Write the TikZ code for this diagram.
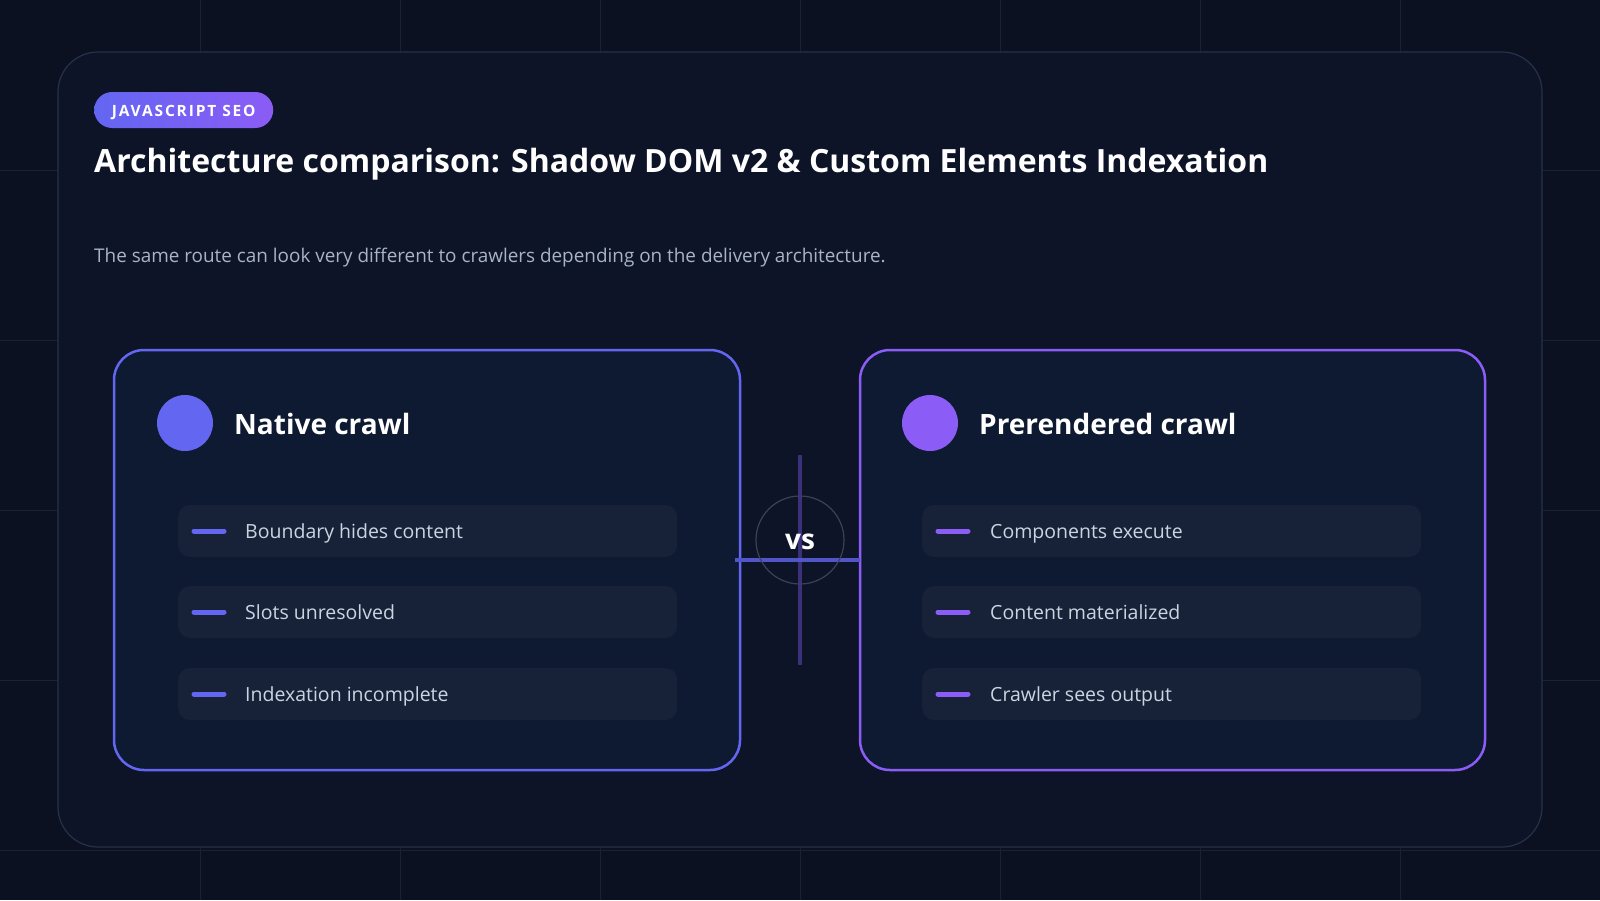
\documentclass[tikz,border=0pt]{standalone}
\usepackage{fontspec}
\setmainfont{Open Sans}
\usetikzlibrary{calc, positioning}

\definecolor{bgdark}{HTML}{0B1120}
\definecolor{gridline}{HTML}{182236}
\definecolor{panelfill}{HTML}{0D1427}
\definecolor{panelline}{HTML}{25324A}
\definecolor{cardfill}{HTML}{0E1A31}
\definecolor{rowfill}{HTML}{172239}
\definecolor{indigo}{HTML}{6366F1}
\definecolor{violet}{HTML}{8B5CF6}
\definecolor{subtext}{HTML}{A8B3C7}
\definecolor{rowtext}{HTML}{CBD5E1}
\definecolor{vsring}{HTML}{3A4256}
\definecolor{vsline}{HTML}{3A3178}

\tikzset{
    card/.style={line width=2.5pt, rounded corners=30pt, fill=cardfill},
    rowbox/.style={fill=rowfill, rounded corners=12pt, minimum width=499pt,
        minimum height=52pt, inner sep=0pt},
    dot/.style={circle, minimum size=56pt, inner sep=0pt},
    marker/.style={line width=5pt, line cap=round},
    heading/.style={anchor=base west, inner sep=0pt, text=white,
        font=\fontsize{28}{32}\selectfont\bfseries},
    rowlabel/.style={anchor=base west, inner sep=0pt, text=rowtext,
        font=\fontsize{19.5}{23}\selectfont},
}

\begin{document}
\begin{tikzpicture}[x=1pt, y=-1pt]

% Hintergrund und Raster
\fill[bgdark] (0,0) rectangle (1600,900);
\useasboundingbox (0,0) rectangle (1600,900);
\draw[gridline, line width=1pt] (200,0) -- (200,900) (400,0) -- (400,900)
    (600,0) -- (600,900) (800,0) -- (800,900) (1000,0) -- (1000,900)
    (1200,0) -- (1200,900) (1400,0) -- (1400,900)
    (0,170) -- (1600,170) (0,340) -- (1600,340) (0,510) -- (1600,510)
    (0,680) -- (1600,680) (0,850) -- (1600,850);

% Hauptflaeche
\draw[panelline, fill=panelfill, line width=1.2pt, rounded corners=40pt]
    (58,52) rectangle (1542,847);

% Badge
\node[rounded corners=18pt, minimum width=179pt, minimum height=36pt,
    left color=indigo, right color=violet, anchor=west] (badge) at (94,110) {};
\node[text=white, anchor=base, inner sep=0pt,
    font=\fontsize{15.5}{18}\selectfont\bfseries\addfontfeature{LetterSpace=12}]
    at ($(badge.center)+(0,6)$) {JAVASCRIPT SEO};

% Titel und Untertitel
\node[anchor=base west, inner sep=0pt, text=white,
    font=\fontsize{32}{36}\selectfont\bfseries] (title) at (94,172)
    {Architecture comparison: Shadow DOM v2 \& Custom Elements Indexation};
\node[anchor=base west, inner sep=0pt, text=subtext,
    font=\fontsize{18.9}{22}\selectfont] (subtitle) at (94,262)
    {The same route can look very different to crawlers depending on the delivery architecture.};

% Karten
\draw[card, draw=indigo] (114,350) rectangle (740,770);
\draw[card, draw=violet] (860,350) rectangle (1485,770);

% Linke Karte
\node[dot, fill=indigo] (ldot) at (185,423) {};
\node[heading] (lhead) at (234,434) {Native crawl};
\node[rowbox, anchor=west] (l1) at (178,531) {};
\node[rowbox, anchor=west] (l2) at (178,612) {};
\node[rowbox, anchor=west] (l3) at (178,694) {};
\draw[marker, indigo] ($(l1.west)+(16,0)$) -- ++(30,0);
\draw[marker, indigo] ($(l2.west)+(16,0)$) -- ++(30,0);
\draw[marker, indigo] ($(l3.west)+(16,0)$) -- ++(30,0);
\node[rowlabel] at ($(l1.west)+(67,7)$) {Boundary hides content};
\node[rowlabel] at ($(l2.west)+(67,7)$) {Slots unresolved};
\node[rowlabel] at ($(l3.west)+(67,7)$) {Indexation incomplete};

% Rechte Karte
\node[dot, fill=violet] (rdot) at (930,423) {};
\node[heading] (rhead) at (979,434) {Prerendered crawl};
\node[rowbox, anchor=west] (r1) at (922,531) {};
\node[rowbox, anchor=west] (r2) at (922,612) {};
\node[rowbox, anchor=west] (r3) at (922,694) {};
\draw[marker, violet] ($(r1.west)+(16,0)$) -- ++(30,0);
\draw[marker, violet] ($(r2.west)+(16,0)$) -- ++(30,0);
\draw[marker, violet] ($(r3.west)+(16,0)$) -- ++(30,0);
\node[rowlabel] at ($(r1.west)+(68,7)$) {Components execute};
\node[rowlabel] at ($(r2.west)+(68,7)$) {Content materialized};
\node[rowlabel] at ($(r3.west)+(68,7)$) {Crawler sees output};

% VS in der Mitte
\coordinate (vtop) at (800,455);
\coordinate (vbot) at (800,665);
\coordinate (hleft) at (735,560);
\coordinate (hright) at (860,560);
\draw[vsline, line width=4pt] (vtop) -- (vbot);
\draw[indigo!80!bgdark, line width=4pt] (hleft) -- (hright);
\node[circle, draw=vsring, line width=1.2pt, minimum size=88pt, inner sep=0pt] (vs) at (800,540) {};
\node[text=white, anchor=base, inner sep=0pt,
    font=\fontsize{28}{32}\selectfont\bfseries] (vstext) at (800,549) {vs};

\end{tikzpicture}
\end{document}
